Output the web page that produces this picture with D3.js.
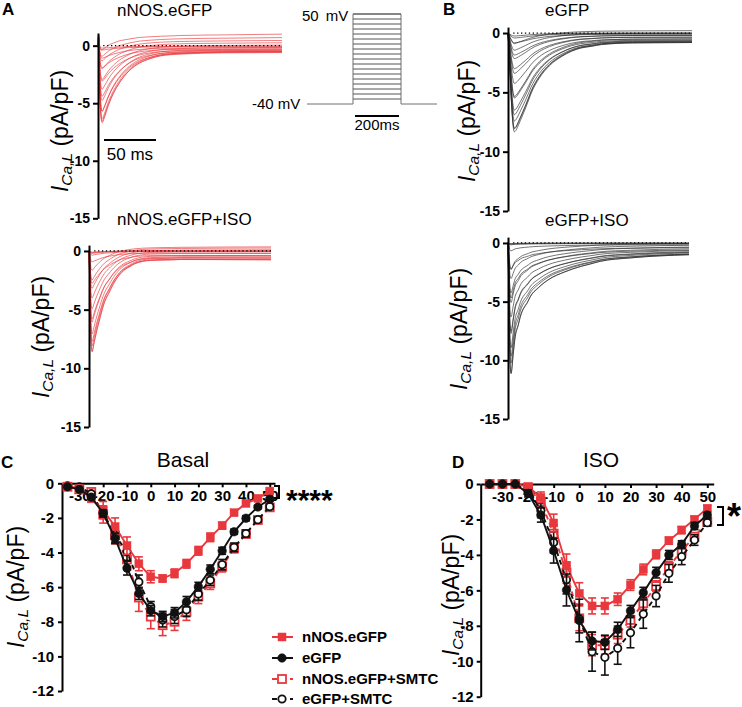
<!DOCTYPE html>
<html><head><meta charset="utf-8">
<script src="https://cdn.jsdelivr.net/npm/d3@7"></script>
<style>body{margin:0;background:#fff} svg{display:block}</style>
</head><body><svg id="c" width="742" height="707"></svg>
<script>
// ---------------- DATA ----------------
const voltages = [-35,-30,-25,-20,-15,-10,-5,0,5,10,15,20,25,30,35,40,45,50];

// Panel C (Basal) mean ± SEM, pA/pF
const basalNNOS      = [-0.17,-0.3,-0.9,-1.55,-2.5,-3.6,-4.65,-5.4,-5.5,-5.2,-4.65,-3.9,-3.12,-2.45,-1.7,-1.16,-0.87,-0.45];
const basalNNOSErr   = [0.05,0.1,0.15,0.5,0.5,0.5,0.4,0.35,0.2,0.25,0.25,0.25,0.25,0.2,0.15,0.15,0.1,0.1];
const basalEGFP      = [-0.2,-0.35,-0.8,-1.73,-3.18,-4.9,-6.36,-7.36,-7.7,-7.48,-6.84,-5.97,-4.97,-3.9,-2.8,-2.02,-1.37,-0.92];
const basalEGFPErr   = [0.05,0.05,0.1,0.2,0.3,0.4,0.35,0.3,0.3,0.3,0.3,0.25,0.25,0.2,0.15,0.15,0.1,0.1];
const basalNNOSSMTC  = [-0.2,-0.35,-0.5,-1.8,-3.0,-4.4,-6.6,-7.7,-8.2,-8.0,-7.42,-6.55,-5.78,-4.82,-3.76,-2.93,-2.12,-1.39];
const basalNNOSSMTCErr=[0.05,0.1,0.15,0.5,0.5,0.6,0.8,0.7,0.6,0.5,0.5,0.4,0.35,0.3,0.25,0.2,0.15,0.15];
const basalEGFPSMTC  = [-0.15,-0.2,-0.6,-1.7,-3.0,-3.95,-5.7,-7.13,-7.9,-7.7,-7.3,-6.4,-5.6,-4.7,-3.7,-2.9,-2.1,-1.35];
const basalEGFPSMTCErr=[0.05,0.05,0.1,0.3,0.4,0.5,0.4,0.3,0.4,0.4,0.4,0.35,0.3,0.3,0.25,0.2,0.15,0.15];

// Panel D (ISO)
const isoNNOS       = [0,0,0,-0.15,-0.75,-2.2,-4.6,-6.17,-6.88,-6.88,-6.5,-5.7,-4.82,-3.97,-3.2,-2.6,-1.99,-1.37];
const isoNNOSErr    = [0.02,0.02,0.02,0.1,0.3,0.5,0.65,0.6,0.45,0.45,0.35,0.3,0.3,0.25,0.2,0.2,0.15,0.15];
const isoEGFP       = [0,0,0,-0.53,-1.75,-3.76,-5.98,-7.7,-8.86,-8.93,-8.2,-7.15,-6.13,-5.0,-4.0,-3.4,-2.37,-1.75];
const isoEGFPErr    = [0.02,0.02,0.02,0.2,0.4,0.7,0.9,1.2,0.5,0.4,0.4,0.3,0.3,0.3,0.25,0.2,0.2,0.15];
const isoNNOSSMTC   = [0,0,0,-0.2,-1.0,-2.8,-5.0,-7.58,-9.09,-9.1,-8.5,-7.67,-6.73,-5.76,-4.67,-3.76,-2.97,-2.13];
const isoNNOSSMTCErr= [0.02,0.02,0.02,0.1,0.3,0.5,0.6,0.7,0.6,0.5,0.5,0.4,0.35,0.3,0.3,0.25,0.2,0.2];
const isoEGFPSMTC   = [0,0,0,-0.3,-1.5,-3.3,-5.4,-7.6,-9.46,-9.78,-9.27,-8.39,-7.34,-6.32,-5.04,-4.1,-3.16,-2.18];
const isoEGFPSMTCErr= [0.02,0.02,0.02,0.2,0.4,0.6,0.8,0.8,1.1,1.0,0.9,0.85,0.8,0.6,0.5,0.45,0.3,0.2];

const ivXTicks = [-30,-20,-10,0,10,20,30,40,50];
const ivYTicks = [0,-2,-4,-6,-8,-10,-12];
const traceYTicks = [0,-5,-10,-15];
const legendLabels = ["nNOS.eGFP","eGFP","nNOS.eGFP+SMTC","eGFP+SMTC"];

// Current traces (one per voltage step): peak amplitude and late (sustained) level, pA/pF
const TRACE_MS = 177;
const peakATop = [-0.2,-0.35,-1.05,-1.85,-3.0,-4.3,-5.6,-6.45,-6.6,-6.25,-5.6,-4.7,-3.75,-2.95,-2.05,-1.4,-1.05,-0.55];
const endATop  = [-0.05,-0.1,-0.2,-0.3,-0.4,-0.5,-0.55,-0.6,-0.55,-0.5,-0.4,-0.3,-0.15,0.05,0.25,0.45,0.7,1.0];
const peakAIso = [-0.1,-0.15,-0.2,-0.35,-0.9,-2.7,-5.7,-7.6,-8.5,-8.4,-8.0,-7.0,-6.0,-4.9,-4.0,-3.2,-2.5,-1.7];
const endAIso  = [0,0,0,-0.05,-0.2,-0.4,-0.6,-0.75,-0.75,-0.7,-0.6,-0.5,-0.4,-0.2,-0.05,0.1,0.25,0.35];
const peakBTop = [-0.25,-0.4,-0.8,-1.8,-3.3,-5.2,-6.7,-7.8,-8.1,-7.85,-7.2,-6.3,-5.3,-4.1,-2.9,-2.1,-1.45,-0.95];
const endBTop  = [0,-0.05,-0.1,-0.2,-0.35,-0.5,-0.65,-0.75,-0.8,-0.8,-0.75,-0.7,-0.6,-0.5,-0.35,-0.2,0,0.2];
const peakBIso = [-0.05,-0.1,-0.15,-0.65,-2.2,-4.6,-7.4,-9.5,-11,-10.9,-10.1,-8.8,-7.6,-6.2,-5.0,-4.2,-3.0,-2.2];
const endBIso  = [0,-0.02,-0.05,-0.15,-0.4,-0.6,-0.8,-0.95,-1.0,-1.0,-0.95,-0.85,-0.75,-0.65,-0.5,-0.35,-0.2,-0.05];

const shapeATop = [[0,0],[1,0.35],[2,0.75],[3,0.95],[4,1],[6,0.93],[10,0.75],[15,0.58],[20,0.45],[25,0.35],[30,0.27],[40,0.16],[50,0.1],[60,0.06],[80,0.03],[120,0.01],[177,0]];
const shapeAIso = [[0,0],[1,0.45],[2,0.9],[3,1],[5,0.9],[8,0.75],[11,0.62],[15,0.47],[21,0.33],[28,0.2],[35,0.12],[44,0.06],[60,0.02],[90,0.005],[177,0]];
const shapeBTop = [[0,0],[1.5,0.3],[3,0.65],[4.5,0.9],[6,1],[8,0.97],[12,0.86],[17,0.72],[22,0.57],[30,0.4],[40,0.26],[52,0.16],[70,0.07],[90,0.03],[120,0.01],[177,0]];
const shapeBIso = [[0,0],[1,0.5],[2,0.92],[3,1],[5,0.85],[7,0.7],[12,0.53],[21,0.37],[30,0.28],[40,0.21],[55,0.15],[72,0.1],[90,0.06],[120,0.03],[177,0]];
const sustainedRise = [[0,0],[3,0.15],[10,0.45],[20,0.65],[40,0.8],[80,0.9],[177,1]];
const artifactATop = [[0,0],[0.5,1.0],[1.5,0.2],[2.5,0],[177,0]];
const noArtifact = [[0,0],[177,0]];

// ---------------- DRAWING ----------------
const FONT = '"Liberation Sans", Arial, Helvetica, sans-serif';
const RED = "#e8383d";
const svg = d3.select("#c").attr("font-family", FONT);

function interp(arr){
  return d3.scaleLinear().domain(arr.map(d=>d[0])).range(arr.map(d=>d[1])).clamp(true);
}
function txt(x,y,s,size,opts={}){
  const t = svg.append("text").attr("x",x).attr("y",y).attr("font-size",size).text(s);
  if(opts.bold) t.attr("font-weight","bold");
  t.attr("text-anchor", opts.anchor || "start");
  return t;
}
function yLabel(x,y){
  const t = svg.append("text").attr("transform",`translate(${x},${y}) rotate(-90)`)
    .attr("text-anchor","middle").attr("font-size",23);
  t.append("tspan").attr("font-style","italic").text("I");
  t.append("tspan").attr("font-style","italic").attr("font-size",15.5).attr("dy",4).text("Ca,L");
  t.append("tspan").attr("dy",-4).text("\u00a0(pA/pF)");
}
function styleAxis(g, size){
  g.attr("font-family",FONT);
  g.select(".domain").attr("stroke","#000").attr("stroke-width",2);
  g.selectAll(".tick line").attr("stroke","#000").attr("stroke-width",2);
  g.selectAll(".tick text").attr("font-size",size).attr("font-weight","bold").attr("fill","#000");
}

function tracePanel(c){
  const x = d3.scaleLinear().domain([0,TRACE_MS]).range([c.x0,c.x1]);
  const y = d3.scaleLinear().domain(c.yDomain).range(c.yRange);
  const T = interp(c.shape), R = interp(sustainedRise), A = interp(c.artifact);
  const times = Array.from(new Set([...c.shape.map(d=>d[0]),...sustainedRise.map(d=>d[0]),...c.artifact.map(d=>d[0])])).sort((a,b)=>a-b);
  const line = d3.line().x(d=>x(d[0])).y(d=>y(d[1])).curve(d3.curveMonotoneX);
  const g = svg.append("g");
  c.peaks.forEach((p,i)=>{
    const pts = times.map(t=>[t, p*T(t) + c.ends[i]*R(t) + A(t)]);
    g.append("path").attr("d",line(pts)).attr("fill","none").attr("stroke",c.color).attr("stroke-width",0.65);
  });
  svg.append("line").attr("x1",x(5)).attr("x2",x(TRACE_MS)).attr("y1",y(0)).attr("y2",y(0))
    .attr("stroke","#000").attr("stroke-width",1.3).attr("stroke-dasharray","1.3,2.6");
  const ax = svg.append("g").attr("transform",`translate(${c.x0},0)`)
    .call(d3.axisLeft(y).tickValues(traceYTicks).tickSize(5).tickPadding(3).tickSizeOuter(0).tickFormat(String));
  styleAxis(ax,14);
  txt(c.titleX,c.titleY,c.title,17);
  yLabel(c.labelX,c.labelY);
  return x;
}

const xATop = tracePanel({x0:98,x1:282,yDomain:[1.1,-15],yRange:[33,218.3],peaks:peakATop,ends:endATop,shape:shapeATop,artifact:artifactATop,color:RED,title:"nNOS.eGFP",titleX:117,titleY:16,labelX:68,labelY:131});
tracePanel({x0:89,x1:271,yDomain:[0.5,-15],yRange:[245.1,427],peaks:peakAIso,ends:endAIso,shape:shapeAIso,artifact:noArtifact,color:RED,title:"nNOS.eGFP+ISO",titleX:117,titleY:225,labelX:49,labelY:337});
tracePanel({x0:508,x1:692,yDomain:[0.5,-15],yRange:[27.1,211],peaks:peakBTop,ends:endBTop,shape:shapeBTop,artifact:noArtifact,color:"#2a2a2a",title:"eGFP",titleX:545,titleY:16,labelX:475,labelY:121});
tracePanel({x0:508,x1:689,yDomain:[0.5,-15],yRange:[237.1,419],peaks:peakBIso,ends:endBIso,shape:shapeBIso,artifact:noArtifact,color:"#2a2a2a",title:"eGFP+ISO",titleX:545,titleY:226,labelX:467,labelY:329});

// scale bar 50 ms
const sb0 = 104, sb1 = sb0 + (xATop(50)-xATop(0));
svg.append("line").attr("x1",sb0).attr("x2",sb1).attr("y1",140).attr("y2",140).attr("stroke","#000").attr("stroke-width",2);
txt((sb0+sb1)/2,160,"50 ms",17,{anchor:"middle"});

// voltage protocol
const vp = d3.scaleLinear().domain([-40,50]).range([104,14]);
const pg = svg.append("g").attr("stroke","#707070").attr("stroke-width",1).attr("fill","none");
pg.append("path").attr("d",`M307,${vp(-40)}H353V${vp(50)}H401V${vp(-40)}H437`);
voltages.forEach(v=>pg.append("line").attr("x1",353).attr("x2",401).attr("y1",vp(v)).attr("y2",vp(v)).attr("stroke","#555"));
txt(302,21,"50 mV",15).attr("word-spacing",3);
txt(252,109,"-40 mV",15);
svg.append("line").attr("x1",355).attr("x2",399).attr("y1",116).attr("y2",116).attr("stroke","#000").attr("stroke-width",2);
txt(377,130,"200ms",15,{anchor:"middle"});

// panel letters
txt(2,15,"A",17,{bold:true});
txt(443,15,"B",17,{bold:true});
txt(1,468,"C",17,{bold:true});
txt(452,468,"D",17,{bold:true});

function marker(g,s,cx,cy){
  if(s.shape==="square"){
    g.append("rect").attr("x",cx-4).attr("y",cy-4).attr("width",8).attr("height",8)
      .attr("fill",s.filled?s.color:"#fff").attr("stroke",s.color).attr("stroke-width",s.filled?0.5:1.8);
  } else {
    g.append("circle").attr("cx",cx).attr("cy",cy).attr("r",s.filled?4.3:3.7)
      .attr("fill",s.filled?s.color:"#fff").attr("stroke",s.color).attr("stroke-width",s.filled?0.5:1.8);
  }
}

const seriesStyle = [
  {shape:"square",filled:true,color:RED,dashed:false},
  {shape:"circle",filled:true,color:"#111",dashed:false},
  {shape:"square",filled:false,color:RED,dashed:true},
  {shape:"circle",filled:false,color:"#111",dashed:true}
];

function ivPanel(c){
  const x = d3.scaleLinear().domain(c.xDomain).range(c.xRange);
  const y = d3.scaleLinear().domain([0,-12]).range(c.yRange);
  const gx = svg.append("g").attr("transform",`translate(0,${y(0)})`)
    .call(d3.axisBottom(x).tickValues(ivXTicks).tickSize(4).tickPadding(3).tickSizeOuter(0).tickFormat(String));
  styleAxis(gx,15);
  const gy = svg.append("g").attr("transform",`translate(${c.xRange[0]},0)`)
    .call(d3.axisLeft(y).tickValues(ivYTicks).tickSize(4).tickPadding(c.yPad).tickSizeOuter(0).tickFormat(String));
  styleAxis(gy,15);
  // draw order: SMTC series below
  [2,3,0,1].forEach(k=>{
    const s = seriesStyle[k], vals = c.series[k], errs = c.errors[k];
    const g = svg.append("g");
    const line = d3.line().x((d,i)=>x(voltages[i])).y(d=>y(d));
    g.append("path").attr("d",line(vals)).attr("fill","none").attr("stroke",s.color).attr("stroke-width",1.9)
      .attr("stroke-dasharray",s.dashed?"5,4":null);
    vals.forEach((v,i)=>{
      const cx = x(voltages[i]);
      const e = errs[i];
      if(e>0.08){
        const eg = g.append("g").attr("stroke",s.color).attr("stroke-width",1.6);
        eg.append("line").attr("x1",cx).attr("x2",cx).attr("y1",y(v-e)).attr("y2",y(v+e));
        eg.append("line").attr("x1",cx-4).attr("x2",cx+4).attr("y1",y(v-e)).attr("y2",y(v-e));
        eg.append("line").attr("x1",cx-4).attr("x2",cx+4).attr("y1",y(v+e)).attr("y2",y(v+e));
      }
    });
    vals.forEach((v,i)=>marker(g,s,x(voltages[i]),y(v)));
  });
  txt(c.titleX,467,c.title,21,{anchor:"middle"});
  yLabel(c.labelX,c.labelY);
}

ivPanel({xDomain:[-37.3,52.2],xRange:[62,275],yRange:[483.3,691],yPad:4,
  series:[basalNNOS,basalEGFP,basalNNOSSMTC,basalEGFPSMTC],
  errors:[basalNNOSErr,basalEGFPErr,basalNNOSSMTCErr,basalEGFPSMTCErr],
  title:"Basal",titleX:183,labelX:24,labelY:587});
ivPanel({xDomain:[-38.5,52.5],xRange:[480.7,713.7],yRange:[484,696.7],yPad:3,
  series:[isoNNOS,isoEGFP,isoNNOSSMTC,isoEGFPSMTC],
  errors:[isoNNOSErr,isoEGFPErr,isoNNOSSMTCErr,isoEGFPSMTCErr],
  title:"ISO",titleX:601,labelX:459,labelY:595});

// significance brackets
svg.append("path").attr("d","M274,486H279V498H274").attr("fill","none").attr("stroke","#000").attr("stroke-width",2);
txt(286,510,"****",30,{bold:true});
svg.append("path").attr("d","M717,507H723V525H717").attr("fill","none").attr("stroke","#000").attr("stroke-width",2);
txt(727,529,"*",36,{bold:true});

// legend
const legY = [637,658,679,699];
legendLabels.forEach((lab,k)=>{
  const s = seriesStyle[k];
  const g = svg.append("g");
  g.append("line").attr("x1",272).attr("x2",293).attr("y1",legY[k]).attr("y2",legY[k])
    .attr("stroke",s.color).attr("stroke-width",2).attr("stroke-dasharray",s.dashed?"5,4":null);
  marker(g,s,282,legY[k]);
  txt(302,legY[k]+5,lab,15,{bold:true});
});
</script>
</body></html>
